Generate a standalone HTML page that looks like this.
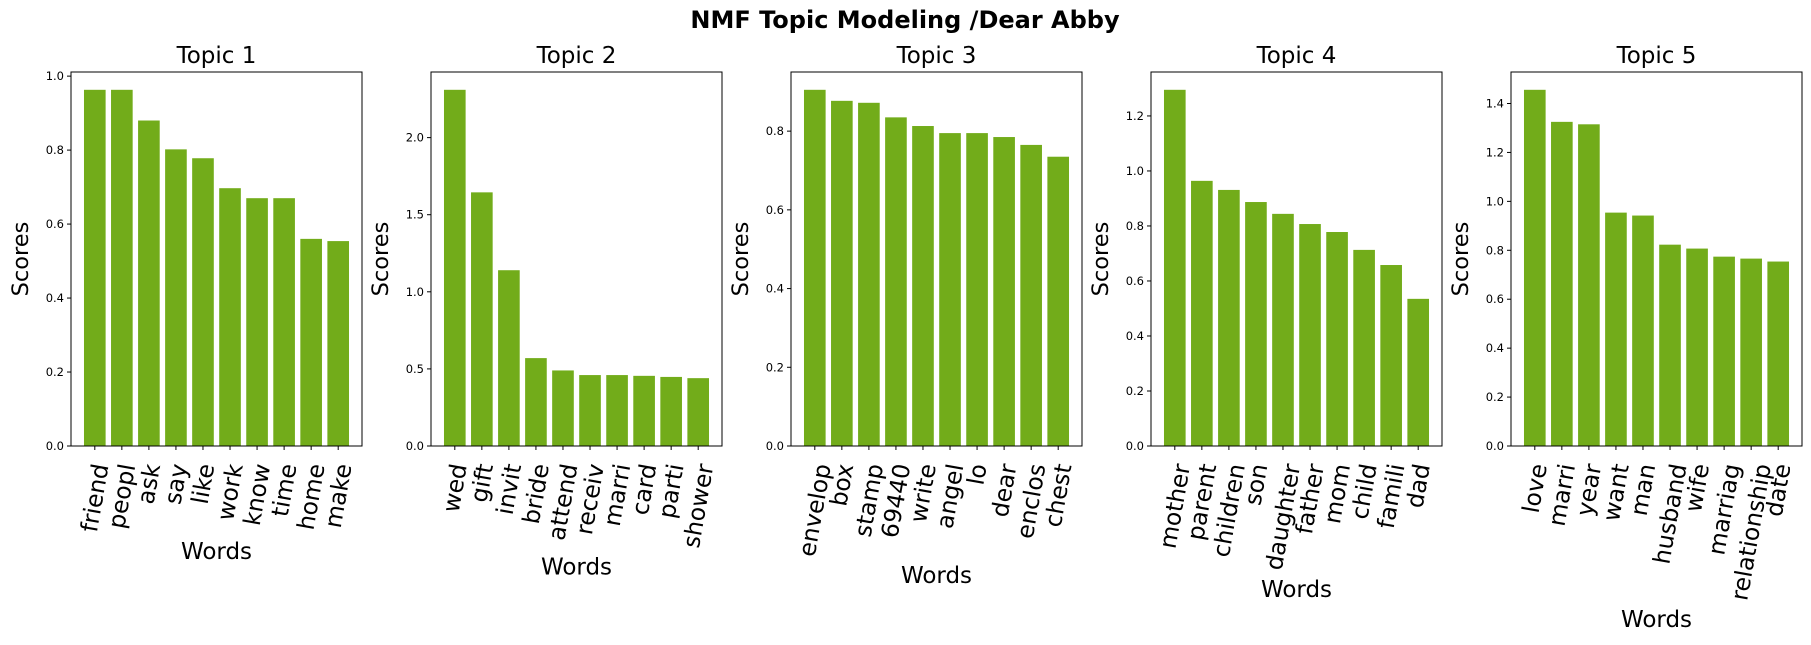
<!DOCTYPE html>
<html><head><meta charset="utf-8">
<style>
html,body{margin:0;padding:0;background:#fff;}
svg{display:block;font-family:"DejaVu Sans","Liberation Sans",sans-serif;}
</style></head>
<body>
<svg id="chart" width="1811" height="645" viewBox="0 0 1811 645" xmlns="http://www.w3.org/2000/svg">
<text x="905" y="28" text-anchor="middle" font-size="24" font-weight="bold">NMF Topic Modeling /Dear Abby</text>
</svg>
<script>
const topicTitles = ["Topic 1","Topic 2","Topic 3","Topic 4","Topic 5"];
const words1 = ["friend","peopl","ask","say","like","work","know","time","home","make"];
const scores1 = [0.963,0.963,0.880,0.802,0.778,0.697,0.670,0.670,0.560,0.554];
const words2 = ["wed","gift","invit","bride","attend","receiv","marri","card","parti","shower"];
const scores2 = [2.31,1.645,1.14,0.57,0.49,0.46,0.46,0.455,0.448,0.44];
const words3 = ["envelop","box","stamp","69440","write","angel","lo","dear","enclos","chest"];
const scores3 = [0.905,0.877,0.872,0.835,0.813,0.795,0.795,0.785,0.765,0.735];
const words4 = ["mother","parent","children","son","daughter","father","mom","child","famili","dad"];
const scores4 = [1.295,0.964,0.931,0.887,0.844,0.807,0.778,0.713,0.658,0.535];
const words5 = ["love","marri","year","want","man","husband","wife","marriag","relationship","date"];
const scores5 = [1.456,1.325,1.315,0.954,0.942,0.823,0.807,0.774,0.766,0.754];
const tickSteps = [0.2,0.5,0.2,0.2,0.2];

const NS="http://www.w3.org/2000/svg";
const svgEl=document.getElementById('chart');
function mk(tag,attrs,parent){const e=document.createElementNS(NS,tag);for(const k in attrs)e.setAttribute(k,attrs[k]);(parent||svgEl).appendChild(e);return e;}
const allWords=[words1,words2,words3,words4,words5];
const allScores=[scores1,scores2,scores3,scores4,scores5];
const axTop=72,axBot=446,axW=291;
for(let p=0;p<5;p++){
  const left=71+p*360;
  const words=allWords[p],vals=allScores[p];
  const ymax=Math.max(...vals)*1.05;
  const y=v=>axBot-(v/ymax)*(axBot-axTop);
  const n=vals.length;const xmin=-0.4-0.049*(n-0.2),xmax=n-1+0.4+0.049*(n-0.2);
  const x=i=>left+(i-xmin)/(xmax-xmin)*axW;
  const g=mk('g',{});
  
  
  const t=mk('text',{x:left+axW/2,y:63,'text-anchor':'middle','font-size':23},g);t.textContent=topicTitles[p];
  
  
  vals.forEach((v,i)=>{
    const bw=x(i+0.4)-x(i-0.4);
    const r=mk('rect',{x:x(i-0.4),y:y(v),width:bw,height:axBot-y(v),fill:'#72ac1a'},g);
    
    
  });
  const ax=mk('rect',{x:left,y:axTop,width:axW,height:axBot-axTop,fill:'none',stroke:'#000','stroke-width':1},g);
  
  
  const st=tickSteps[p];
  for(let k=0;k*st<=ymax+1e-9;k++){
    const v=k*st,yy=y(v);
    mk('line',{x1:left-4,x2:left,y1:yy,y2:yy,stroke:'#000'},g);
    const tl=mk('text',{x:left-7,y:yy+4,'text-anchor':'end','font-size':11.5},g);tl.textContent=v.toFixed(1);
    
    
  }
  let maxBottom=0;
  words.forEach((w,i)=>{
    const xx=x(i);
    mk('line',{x1:xx,x2:xx,y1:axBot,y2:axBot+4,stroke:'#000'},g);
    const tx=mk('text',{'text-anchor':'middle','font-size':23.5},g);tx.textContent=w;
    
    
    let L=0;try{L=tx.getComputedTextLength();}catch(e){}
    if(!L)L=w.length*13;
    const h=23.5;
    const a=80*Math.PI/180;
    const bh=L*Math.sin(a)+h*Math.cos(a);
    const cy=axBot+16+bh/2;
    tx.setAttribute('x',xx);tx.setAttribute('y',cy+8);
    tx.setAttribute('transform','rotate(-80 '+xx+' '+cy+')');
    maxBottom=Math.max(maxBottom,axBot+16+bh);
  });
  const xl=mk('text',{x:left+axW/2,y:maxBottom+25,'text-anchor':'middle','font-size':23},g);xl.textContent='Words';
  
  
  const yl=mk('text',{x:0,y:0,'text-anchor':'middle','font-size':22.5,transform:'translate('+(left-43)+' '+((axTop+axBot)/2)+') rotate(-90)'},g);yl.textContent='Scores';
  
  
}
</script>
</body></html>
